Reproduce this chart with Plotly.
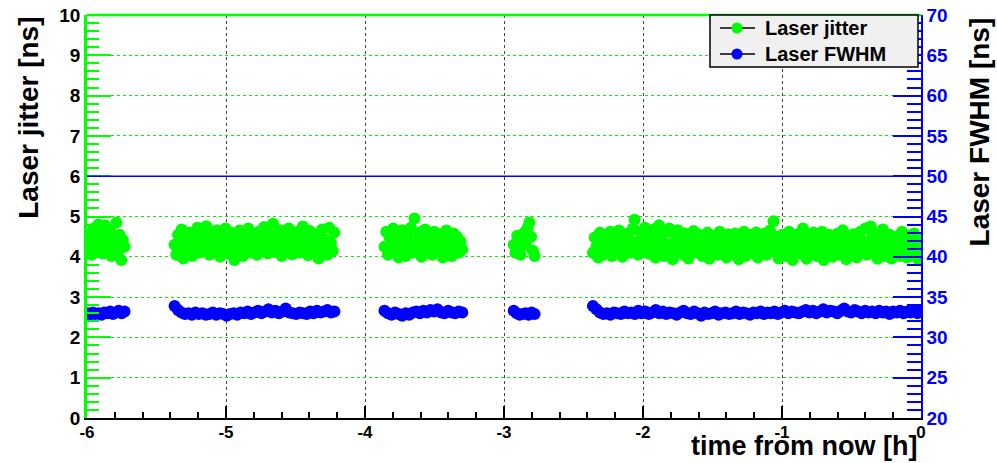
import numpy as np
import plotly.graph_objects as go

# ---- data -------------------------------------------------------------
# measurement segments (hours from now)
seg_start = [-6.00, -5.37, -3.86, -2.93, -2.36]
seg_end = [-5.73, -4.22, -3.30, -2.78, 0.00]

# Laser jitter [ns] per segment
jitter_1 = [4.20, 4.55, 4.35, 4.05, 4.70, 4.45, 4.15, 4.80, 4.30, 4.60, 4.08, 4.78,
            4.40, 4.22, 4.65, 4.02, 4.50, 4.35, 4.85, 4.12, 4.55, 3.92, 4.42, 4.25]
jitter_2 = [4.30, 4.05, 4.55, 4.20, 4.68, 3.96, 4.42, 4.15, 4.60, 4.32,
            4.02, 4.50, 4.25, 4.72, 4.10, 4.40, 4.62, 4.18, 4.76, 4.35,
            4.05, 4.58, 4.28, 4.12, 4.66, 4.45, 4.00, 4.52, 4.22, 4.70,
            4.38, 4.08, 4.60, 4.25, 3.92, 4.48, 4.15, 4.65, 4.32, 4.02,
            4.55, 4.20, 4.70, 4.42, 4.10, 4.58, 4.28, 4.05, 4.62, 4.36,
            4.18, 4.74, 4.48, 4.08, 4.56, 4.30, 4.82, 4.12, 4.45, 4.22,
            4.66, 4.02, 4.52, 4.35, 4.14, 4.70, 4.40, 4.06, 4.58, 4.26,
            4.62, 4.10, 4.48, 4.75, 4.20, 4.38, 4.04, 4.64, 4.30, 4.12,
            4.56, 4.24, 3.96, 4.50, 4.68, 4.18, 4.42, 4.05, 4.72, 4.34,
            4.15, 4.60]
jitter_3 = [4.25, 4.62, 4.05, 4.48, 4.30, 4.70, 4.12, 4.55, 3.98, 4.40,
            4.66, 4.20, 4.02, 4.58, 4.35, 4.72, 4.10, 4.95, 4.45, 4.22,
            4.60, 4.00, 4.38, 4.68, 4.15, 4.52, 4.28, 4.05, 4.62, 4.40,
            4.12, 4.56, 4.30, 3.98, 4.48, 4.65, 4.20, 4.42, 4.02, 4.58,
            4.25, 4.50, 4.10, 4.38, 4.18]
jitter_4 = [4.30, 4.10, 4.52, 4.22, 4.05, 4.45, 4.60, 4.30, 4.72, 4.85, 4.50, 4.15, 4.02]
jitter_5 = [4.10, 4.48, 4.25, 3.98, 4.60, 4.35, 4.05, 4.55, 4.20, 4.42,
            4.62, 4.02, 4.30, 4.52, 4.15, 4.65, 4.38, 4.00, 4.50, 4.22,
            4.58, 4.10, 4.40, 4.70, 4.92, 4.28, 4.05, 4.62, 4.45, 4.15,
            4.72, 4.35, 4.08, 4.55, 4.25, 4.68, 3.98, 4.48, 4.78, 4.20,
            4.40, 4.02, 4.62, 4.30, 4.70, 4.12, 3.94, 4.52, 4.36, 4.66,
            4.18, 4.45, 4.05, 4.58, 4.28, 3.96, 4.50, 4.22, 4.64, 4.40,
            4.10, 4.55, 4.32, 4.02, 4.48, 4.20, 4.60, 3.95, 4.38, 4.15,
            4.52, 4.28, 4.05, 4.62, 4.35, 4.12, 4.45, 3.98, 4.56, 4.25,
            4.40, 4.08, 4.58, 4.30, 3.94, 4.50, 4.18, 4.62, 4.02, 4.42,
            4.22, 4.55, 4.10, 4.36, 4.60, 3.98, 4.46, 4.15, 4.28, 4.58,
            4.05, 4.40, 4.65, 4.20, 4.88, 4.50, 4.12, 3.96, 4.35, 4.55,
            4.25, 4.02, 4.48, 4.62, 4.18, 3.92, 4.40, 4.30, 4.56, 4.08,
            4.45, 4.70, 4.22, 3.95, 4.52, 4.35, 4.10, 4.60, 4.28, 4.02,
            4.48, 4.20, 4.62, 3.92, 4.38, 4.12, 4.55, 4.30, 4.00, 4.45,
            4.25, 4.58, 4.05, 4.40, 4.66, 4.18, 3.94, 4.50, 4.32, 4.10,
            4.56, 4.22, 3.98, 4.45, 4.62, 4.15, 4.38, 4.70, 4.05, 4.30,
            4.75, 4.52, 4.12, 4.40, 3.95, 4.60, 4.25, 4.68, 4.02, 4.45,
            4.20, 4.55, 3.96, 4.35, 4.12, 4.50, 4.28, 4.02, 4.62, 4.18,
            4.40, 3.98, 4.52, 4.25, 4.10, 4.58, 4.32, 3.95, 4.46, 4.20]

# Laser FWHM [ns] per segment
fwhm_1 = [33.0, 32.8, 33.1, 32.9, 33.0, 32.8, 33.1, 33.0, 33.2, 32.9, 33.1, 33.3, 33.0, 33.2]
fwhm_2 = [33.9, 33.4, 33.1, 32.9, 33.0, 32.8, 33.1, 32.9, 33.0, 32.8, 32.9, 33.1, 32.8, 33.0,
          32.9, 32.7, 32.9, 33.0, 32.8, 33.1, 33.0, 33.2, 32.9, 33.1, 33.3, 33.0, 33.2, 33.5,
          33.1, 33.3, 33.0, 33.2, 33.6, 33.1, 33.0, 32.9, 33.1, 33.0, 32.9, 33.2, 33.0, 33.3,
          33.1, 33.2, 33.4, 33.1, 33.2]
fwhm_3 = [33.3, 33.0, 32.8, 33.1, 32.9, 32.7, 33.0, 32.8, 33.1, 33.2, 33.0, 33.3, 33.1, 33.4,
          33.2, 33.5, 33.1, 33.0, 33.3, 33.1, 33.0, 33.2, 33.1]
fwhm_4 = [33.3, 33.0, 32.8, 32.9, 33.0, 32.8, 33.1, 32.9]
fwhm_5 = [33.9, 33.5, 33.1, 32.9, 33.0, 32.8, 33.1, 33.0, 32.9, 33.2,
          33.0, 33.1, 32.9, 33.3, 33.0, 33.2, 32.9, 33.1, 33.4, 33.0,
          33.2, 32.9, 33.1, 33.0, 32.8, 33.1, 33.3, 33.0, 32.9, 33.2,
          33.0, 32.7, 33.1, 32.9, 33.0, 33.2, 32.8, 33.0, 33.1, 32.9,
          33.0, 33.2, 32.9, 33.1, 33.0, 32.8, 33.1, 33.0, 33.2, 32.9,
          33.1, 33.0, 33.2, 32.9, 33.1, 33.3, 33.0, 33.2, 33.1, 33.0,
          33.2, 33.4, 33.1, 33.3, 33.0, 33.2, 33.5, 33.1, 33.3, 33.2,
          33.0, 33.3, 33.6, 33.2, 33.1, 33.4, 33.2, 33.0, 33.3, 33.1,
          33.2, 33.0, 33.3, 33.1, 33.2, 32.9, 33.2, 33.1, 33.3, 33.0,
          33.2, 33.1, 33.3, 33.0, 33.2]

fwhm_limit = 50

series_names = ["Laser jitter", "Laser FWHM"]
x_tick_vals = [-6, -5, -4, -3, -2, -1, 0]
x_tick_labels = ["-6", "-5", "-4", "-3", "-2", "-1", "0"]
y_tick_vals = [0, 1, 2, 3, 4, 5, 6, 7, 8, 9, 10]
y_tick_labels = ["0", "1", "2", "3", "4", "5", "6", "7", "8", "9", "10"]
y2_tick_vals = [20, 25, 30, 35, 40, 45, 50, 55, 60, 65, 70]
y2_tick_labels = ["20", "25", "30", "35", "40", "45", "50", "55", "60", "65", "70"]

jitter_segments = [jitter_1, jitter_2, jitter_3, jitter_4, jitter_5]
fwhm_segments = [fwhm_1, fwhm_2, fwhm_3, fwhm_4, fwhm_5]


def build(segs):
    xs, ys = [], []
    for s, e, vals in zip(seg_start, seg_end, segs):
        xs.extend(np.linspace(s, e, len(vals)).tolist())
        ys.extend(vals)
    return xs, ys


jx, jy = build(jitter_segments)
fx, fy = build(fwhm_segments)

GREEN = "#00ff00"
BLUE = "#0000ff"
FONT = "Liberation Sans"

# plot-area geometry in pixels (for paper-coordinate legend box)
W, H = 997, 463
ML, MR, MT, MB = 87, 76, 15, 45
PW, PH = W - ML - MR, H - MT - MB


def px(x):
    return (x - ML) / PW


def py(y):
    return (H - MB - y) / PH


fig = go.Figure()
fig.add_trace(go.Scatter(x=jx, y=jy, mode="markers", showlegend=False, name=series_names[0],
                         marker=dict(color=GREEN, size=12, line=dict(width=0))))
fig.add_trace(go.Scatter(x=fx, y=fy, mode="markers", showlegend=False, yaxis="y2",
                         name=series_names[1],
                         marker=dict(color=BLUE, size=12, line=dict(width=0))))

shapes = [
    dict(type="line", xref="paper", yref="y2", x0=0, x1=1, y0=fwhm_limit, y1=fwhm_limit,
         line=dict(color=BLUE, width=1.5)),
    dict(type="line", xref="paper", yref="paper", x0=0, x1=1, y0=1, y1=1,
         line=dict(color=GREEN, width=2.5)),
    # legend box
    dict(type="rect", xref="paper", yref="paper", x0=px(710), x1=px(918), y0=py(67), y1=py(15),
         fillcolor="#f0f0f0", line=dict(color="black", width=1.5)),
]
annotations = []
for name, col, yy in zip(series_names, [GREEN, BLUE], [28, 54]):
    shapes.append(dict(type="line", xref="paper", yref="paper", x0=px(720), x1=px(755),
                       y0=py(yy), y1=py(yy), line=dict(color="black", width=1.5)))
    shapes.append(dict(type="circle", xref="paper", yref="paper",
                       x0=px(737 - 5.5), x1=px(737 + 5.5), y0=py(yy + 5.5), y1=py(yy - 5.5),
                       fillcolor=col, line=dict(color=col, width=0)))
    annotations.append(dict(text=name, xref="paper", yref="paper", x=px(763), y=py(yy),
                            xanchor="left", yanchor="middle", showarrow=False,
                            font=dict(family=FONT, size=20, color="black", weight="bold")))

annotations += [
    dict(text="Laser jitter [ns]", xref="paper", yref="paper", x=-0.071, y=1.0,
         xanchor="center", yanchor="top", textangle=-90, showarrow=False,
         font=dict(family=FONT, size=28, color="black", weight="bold")),
    dict(text="Laser FWHM [ns]", xref="paper", yref="paper", x=1.0707, y=1.0,
         xanchor="center", yanchor="top", textangle=-90, showarrow=False,
         font=dict(family=FONT, size=28, color="black", weight="bold")),
    dict(text="time from now [h]", xref="paper", yref="paper", x=0.998, y=py(463),
         xanchor="right", yanchor="bottom", showarrow=False,
         font=dict(family=FONT, size=27, color="black", weight="bold")),
]

fig.update_layout(
    width=W, height=H,
    margin=dict(l=ML, r=MR, t=MT, b=MB, autoexpand=False),
    paper_bgcolor="white", plot_bgcolor="white",
    font=dict(family=FONT, color="black"),
    showlegend=False,
    shapes=shapes,
    annotations=annotations,
    xaxis=dict(range=[-6, 0], tickmode="array", tickvals=x_tick_vals, ticktext=x_tick_labels,
               ticks="inside", ticklen=12, tickwidth=1.5, tickcolor="black",
               ticklabelstandoff=-2,
               showline=True, linecolor="black", linewidth=1.5, automargin=False,
               showgrid=True, gridcolor="rgb(70,70,70)", griddash="dot", gridwidth=1,
               zeroline=False,
               minor=dict(ticks="inside", ticklen=6, tickcolor="black", dtick=0.2, tick0=0,
                          showgrid=False),
               tickfont=dict(family=FONT, size=17, color="black", weight="bold")),
    yaxis=dict(range=[0, 10], tickmode="array", tickvals=y_tick_vals, ticktext=y_tick_labels,
               ticks="inside", ticklen=24, tickwidth=1.5, tickcolor=GREEN,
               showline=True, linecolor=GREEN, linewidth=2.5, automargin=False,
               showgrid=True, gridcolor="rgb(20,230,20)", griddash="dot", gridwidth=1,
               zeroline=False,
               minor=dict(ticks="inside", ticklen=12, tickcolor=GREEN, dtick=0.2, tick0=0,
                          showgrid=False),
               tickfont=dict(family=FONT, size=19, color="black", weight="bold")),
    yaxis2=dict(range=[20, 70], overlaying="y", side="right", tickmode="array",
                tickvals=y2_tick_vals, ticktext=y2_tick_labels,
                ticks="inside", ticklen=28, tickwidth=1.5, tickcolor=BLUE,
                showline=True, linecolor=BLUE, linewidth=1.5, automargin=False,
                showgrid=False, zeroline=False,
                minor=dict(ticks="inside", ticklen=14, tickcolor=BLUE, dtick=1, tick0=0,
                           showgrid=False),
                tickfont=dict(family=FONT, size=19, color=BLUE, weight="bold")),
)

fig.write_html("out.html", config={"displayModeBar": False},
               post_script="document.body.style.margin='0';document.body.style.padding='0';")
